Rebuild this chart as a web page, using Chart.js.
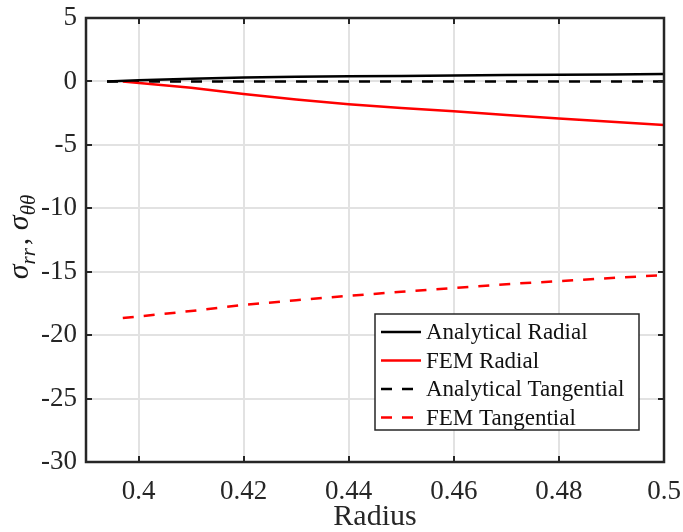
<!DOCTYPE html>
<html>
<head>
<meta charset="utf-8">
<script src="https://cdn.jsdelivr.net/npm/chart.js@4"></script>
<style>
  html, body { margin: 0; padding: 0; background: #fff; }
  #wrap { width: 683px; height: 532px; }
</style>
</head>
<body>
<div id="wrap"><canvas id="stressChart" width="683" height="532"></canvas></div>
<script>
// радиусы и напряжения
const analyticalR = [0.394, 0.40, 0.41, 0.42, 0.43, 0.44, 0.45, 0.46, 0.47, 0.48, 0.49, 0.5];
const analyticalRadial = [0, 0.1, 0.22, 0.3, 0.36, 0.4, 0.43, 0.46, 0.5, 0.52, 0.55, 0.58];
const analyticalTangential = [0, 0, 0, 0, 0, 0, 0, 0, 0, 0, 0, 0];

const femR = [0.397, 0.41, 0.42, 0.43, 0.44, 0.45, 0.46, 0.47, 0.48, 0.49, 0.5];
const femRadial = [0, -0.5, -1.0, -1.42, -1.8, -2.1, -2.36, -2.65, -2.92, -3.18, -3.43];
const femTangential = [-18.65, -18.1, -17.62, -17.25, -16.9, -16.58, -16.28, -15.98, -15.74, -15.5, -15.26];

const xTicks = [0.4, 0.42, 0.44, 0.46, 0.48, 0.5];
const yTicks = [5, 0, -5, -10, -15, -20, -25, -30];

const SERIF = '"Liberation Serif", "DejaVu Serif", serif';
const AXIS_COLOR = '#262626';
const DASH = [11, 10];

function toPoints(xs, ys) {
  return xs.map((x, i) => ({ x: x, y: ys[i] }));
}

// рамка, внутренние засечки и подпись оси Y
const boxPlugin = {
  id: 'matlabBox',
  afterDatasetsDraw(chart) {
    const { ctx, chartArea: a, scales } = chart;
    ctx.save();
    ctx.strokeStyle = AXIS_COLOR;
    ctx.lineWidth = 2;
    const tick = 6;
    ctx.beginPath();
    xTicks.forEach(v => {
      const px = Math.round(scales.x.getPixelForValue(v));
      ctx.moveTo(px, a.bottom); ctx.lineTo(px, a.bottom - tick);
      ctx.moveTo(px, a.top); ctx.lineTo(px, a.top + tick);
    });
    yTicks.forEach(v => {
      const py = Math.round(scales.y.getPixelForValue(v));
      ctx.moveTo(a.left, py); ctx.lineTo(a.left + tick, py);
      ctx.moveTo(a.right, py); ctx.lineTo(a.right - tick, py);
    });
    ctx.stroke();
    ctx.lineWidth = 2.5;
    ctx.strokeRect(a.left, a.top, a.right - a.left, a.bottom - a.top);
    ctx.restore();
  },
  afterDraw(chart) {
    const { ctx } = chart;
    // σ_rr, σ_θθ
    const parts = [
      { t: 'σ', size: 30, italic: true, dy: 0 },
      { t: 'rr', size: 21, italic: true, dy: 7 },
      { t: ', ', size: 30, italic: false, dy: 0 },
      { t: 'σ', size: 30, italic: true, dy: 0 },
      { t: 'θθ', size: 21, italic: true, dy: 7 }
    ];
    ctx.save();
    let total = 0;
    parts.forEach(p => {
      ctx.font = (p.italic ? 'italic ' : '') + p.size + 'px ' + SERIF;
      p.w = ctx.measureText(p.t).width + (p.t === 'rr' ? 3 : 0);
      total += p.w;
    });
    ctx.translate(28, 237);
    ctx.rotate(-Math.PI / 2);
    ctx.fillStyle = '#1a1a1a';
    ctx.textBaseline = 'alphabetic';
    let cx = -total / 2;
    parts.forEach(p => {
      ctx.font = (p.italic ? 'italic ' : '') + p.size + 'px ' + SERIF;
      ctx.fillText(p.t, cx, p.dy);
      cx += p.w;
    });
    ctx.restore();

    // легенда внутри графика
    const lx = 375, ly = 314, lw = 264, lh = 116;
    ctx.save();
    ctx.fillStyle = '#fff';
    ctx.fillRect(lx, ly, lw, lh);
    ctx.strokeStyle = AXIS_COLOR;
    ctx.lineWidth = 1.5;
    ctx.strokeRect(lx, ly, lw, lh);
    ctx.font = '23px ' + SERIF;
    ctx.textBaseline = 'middle';
    chart.data.datasets.forEach((ds, i) => {
      const rowY = ly + 18 + i * 28.5;
      ctx.strokeStyle = ds.borderColor;
      ctx.lineWidth = 2.5;
      ctx.setLineDash(ds.borderDash || []);
      ctx.beginPath();
      ctx.moveTo(lx + 6, rowY);
      ctx.lineTo(lx + 46, rowY);
      ctx.stroke();
      ctx.setLineDash([]);
      ctx.fillStyle = '#111';
      ctx.fillText(ds.label, lx + 51, rowY + 1);
    });
    ctx.restore();
  }
};

const ctx = document.getElementById('stressChart').getContext('2d');
new Chart(ctx, {
  type: 'scatter',
  data: {
    datasets: [
      {
        label: 'Analytical Radial',
        data: toPoints(analyticalR, analyticalRadial),
        borderColor: '#000000',
        borderWidth: 2.5
      },
      {
        label: 'FEM Radial',
        data: toPoints(femR, femRadial),
        borderColor: '#ff0000',
        borderWidth: 2.5
      },
      {
        label: 'Analytical Tangential',
        data: toPoints(analyticalR, analyticalTangential),
        borderColor: '#000000',
        borderWidth: 2.5,
        borderDash: DASH
      },
      {
        label: 'FEM Tangential',
        data: toPoints(femR, femTangential),
        borderColor: '#ff0000',
        borderWidth: 2.5,
        borderDash: DASH
      }
    ]
  },
  options: {
    responsive: false,
    animation: false,
    devicePixelRatio: 1,
    showLine: true,
    elements: { point: { radius: 0, hoverRadius: 0 }, line: { tension: 0 } },
    layout: { padding: { top: 18, right: 19, left: 0, bottom: 0 } },
    plugins: {
      legend: { display: false },
      tooltip: { enabled: false }
    },
    scales: {
      x: {
        type: 'linear',
        min: 0.39,
        max: 0.5,
        afterBuildTicks: s => { s.ticks = xTicks.map(v => ({ value: v })); },
        afterFit: s => { s.height = 70; s.paddingLeft = 0; s.paddingRight = 0; },
        grid: { color: '#e2e2e2', lineWidth: 2, drawTicks: false },
        border: { display: false },
        ticks: {
          padding: 14,
          color: '#262626',
          font: { family: SERIF, size: 27 },
          maxRotation: 0,
          callback: v => String(v)
        },
        title: {
          display: true,
          text: 'Radius',
          color: '#262626',
          font: { family: SERIF, size: 30, lineHeight: 1 },
          padding: { top: 0, bottom: 0 }
        }
      },
      y: {
        min: -30,
        max: 5,
        afterBuildTicks: s => { s.ticks = yTicks.map(v => ({ value: v })); },
        afterFit: s => { s.width = 86; s.paddingTop = 0; s.paddingBottom = 0; },
        grid: { color: '#e2e2e2', lineWidth: 2, drawTicks: false },
        border: { display: false },
        ticks: {
          padding: 9,
          color: '#262626',
          font: { family: SERIF, size: 27 },
          callback: v => String(v)
        }
      }
    }
  },
  plugins: [boxPlugin]
});
</script>
</body>
</html>
